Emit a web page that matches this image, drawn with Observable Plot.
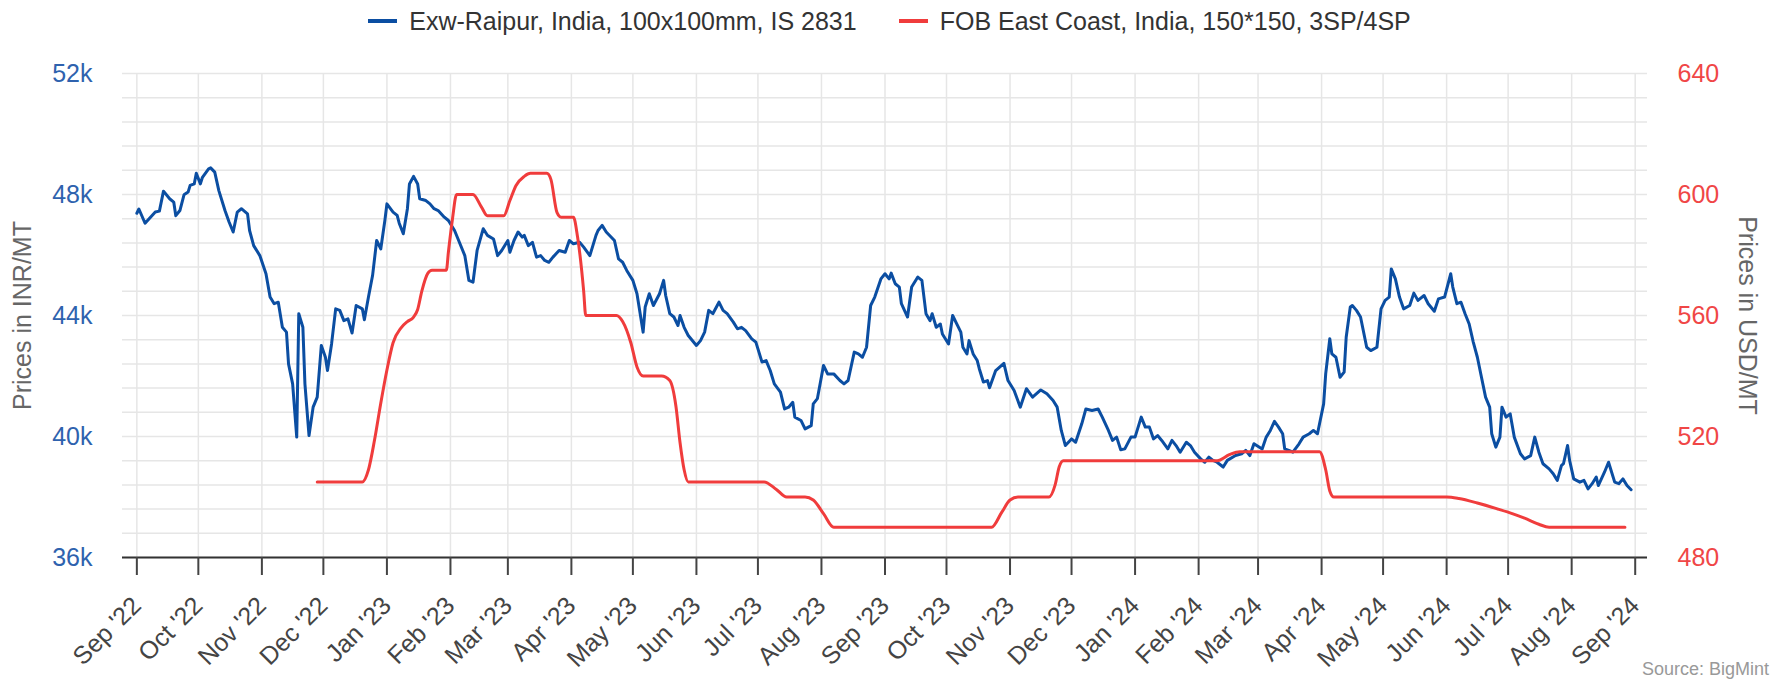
<!DOCTYPE html>
<html><head><meta charset="utf-8">
<script src="https://cdn.jsdelivr.net/npm/d3@7"></script>
<script src="https://cdn.jsdelivr.net/npm/@observablehq/plot@0.6"></script>
<style>
html,body{margin:0;padding:0;background:#fff;}
#wrap{position:relative;width:1779px;height:681px;font-family:"Liberation Sans",Arial,sans-serif;overflow:hidden;background:#fff;}
#legend{height:42px;display:flex;justify-content:center;align-items:center;gap:42px;font-size:25px;color:#333;}
.item{display:flex;align-items:center;white-space:nowrap;}
.sw{width:29px;height:4px;margin-right:12px;}
#source{position:absolute;right:10px;top:659px;font-size:18px;color:#999;}
</style></head>
<body><div id="wrap"><div id="legend"></div><div id="chart"></div><div id="source"></div></div>
<script>
const seriesNames = ["Exw-Raipur, India, 100x100mm, IS 2831", "FOB East Coast, India, 150*150, 3SP/4SP"];
const seriesColors = ["#0b4ea2", "#f03c3c"];
const leftAxisTitle = "Prices in INR/MT";
const rightAxisTitle = "Prices in USD/MT";
const sourceText = "Source: BigMint";
const leftTicks = [36000, 40000, 44000, 48000, 52000];
const rightTicks = [480, 520, 560, 600, 640];

const blueDates = ["2022-09-01","2022-09-02","2022-09-05","2022-09-07","2022-09-10","2022-09-12","2022-09-14","2022-09-17","2022-09-19","2022-09-20","2022-09-22","2022-09-24","2022-09-26","2022-09-27","2022-09-29","2022-09-30","2022-10-02","2022-10-03","2022-10-06","2022-10-07","2022-10-09","2022-10-11","2022-10-14","2022-10-16","2022-10-18","2022-10-20","2022-10-22","2022-10-25","2022-10-26","2022-10-28","2022-10-31","2022-11-03","2022-11-05","2022-11-07","2022-11-09","2022-11-11","2022-11-13","2022-11-14","2022-11-16","2022-11-18","2022-11-19","2022-11-21","2022-11-22","2022-11-24","2022-11-26","2022-11-28","2022-11-30","2022-12-02","2022-12-03","2022-12-05","2022-12-07","2022-12-09","2022-12-11","2022-12-13","2022-12-15","2022-12-17","2022-12-20","2022-12-21","2022-12-23","2022-12-25","2022-12-27","2022-12-29","2022-12-31","2023-01-01","2023-01-04","2023-01-06","2023-01-07","2023-01-09","2023-01-11","2023-01-12","2023-01-14","2023-01-16","2023-01-17","2023-01-20","2023-01-22","2023-01-24","2023-01-26","2023-01-29","2023-01-31","2023-02-03","2023-02-05","2023-02-08","2023-02-10","2023-02-12","2023-02-14","2023-02-17","2023-02-19","2023-02-22","2023-02-24","2023-02-26","2023-03-01","2023-03-02","2023-03-04","2023-03-06","2023-03-08","2023-03-09","2023-03-11","2023-03-13","2023-03-15","2023-03-17","2023-03-19","2023-03-21","2023-03-23","2023-03-26","2023-03-29","2023-03-31","2023-04-02","2023-04-05","2023-04-07","2023-04-10","2023-04-13","2023-04-14","2023-04-16","2023-04-18","2023-04-22","2023-04-24","2023-04-26","2023-04-28","2023-05-01","2023-05-03","2023-05-06","2023-05-07","2023-05-09","2023-05-11","2023-05-14","2023-05-16","2023-05-17","2023-05-19","2023-05-21","2023-05-23","2023-05-24","2023-05-26","2023-05-28","2023-06-01","2023-06-03","2023-06-05","2023-06-07","2023-06-09","2023-06-12","2023-06-14","2023-06-16","2023-06-19","2023-06-21","2023-06-23","2023-06-25","2023-06-28","2023-06-30","2023-07-03","2023-07-05","2023-07-07","2023-07-09","2023-07-12","2023-07-14","2023-07-16","2023-07-18","2023-07-19","2023-07-22","2023-07-24","2023-07-27","2023-07-28","2023-07-30","2023-08-02","2023-08-04","2023-08-07","2023-08-10","2023-08-12","2023-08-14","2023-08-17","2023-08-19","2023-08-21","2023-08-23","2023-08-25","2023-08-27","2023-08-30","2023-09-01","2023-09-03","2023-09-04","2023-09-06","2023-09-08","2023-09-09","2023-09-12","2023-09-14","2023-09-17","2023-09-19","2023-09-21","2023-09-23","2023-09-24","2023-09-26","2023-09-28","2023-09-29","2023-10-02","2023-10-04","2023-10-06","2023-10-08","2023-10-09","2023-10-11","2023-10-12","2023-10-14","2023-10-16","2023-10-17","2023-10-19","2023-10-21","2023-10-22","2023-10-25","2023-10-29","2023-10-31","2023-11-03","2023-11-06","2023-11-09","2023-11-12","2023-11-16","2023-11-19","2023-11-22","2023-11-24","2023-11-26","2023-11-28","2023-12-01","2023-12-03","2023-12-06","2023-12-08","2023-12-11","2023-12-14","2023-12-16","2023-12-19","2023-12-21","2023-12-23","2023-12-25","2023-12-27","2023-12-30","2024-01-01","2024-01-04","2024-01-06","2024-01-08","2024-01-10","2024-01-12","2024-01-14","2024-01-17","2024-01-19","2024-01-21","2024-01-23","2024-01-26","2024-01-28","2024-01-30","2024-02-02","2024-02-04","2024-02-06","2024-02-08","2024-02-10","2024-02-13","2024-02-15","2024-02-19","2024-02-22","2024-02-24","2024-02-26","2024-02-28","2024-03-03","2024-03-05","2024-03-07","2024-03-09","2024-03-11","2024-03-13","2024-03-14","2024-03-16","2024-03-18","2024-03-21","2024-03-23","2024-03-26","2024-03-28","2024-03-30","2024-03-31","2024-04-02","2024-04-03","2024-04-05","2024-04-06","2024-04-08","2024-04-10","2024-04-12","2024-04-13","2024-04-15","2024-04-16","2024-04-18","2024-04-20","2024-04-23","2024-04-25","2024-04-28","2024-04-30","2024-05-02","2024-05-04","2024-05-05","2024-05-07","2024-05-09","2024-05-11","2024-05-14","2024-05-16","2024-05-18","2024-05-21","2024-05-23","2024-05-26","2024-05-28","2024-05-31","2024-06-03","2024-06-04","2024-06-06","2024-06-08","2024-06-10","2024-06-12","2024-06-14","2024-06-16","2024-06-18","2024-06-20","2024-06-22","2024-06-23","2024-06-25","2024-06-27","2024-06-28","2024-06-30","2024-07-02","2024-07-04","2024-07-07","2024-07-09","2024-07-12","2024-07-14","2024-07-16","2024-07-18","2024-07-21","2024-07-23","2024-07-25","2024-07-27","2024-07-28","2024-07-30","2024-07-31","2024-08-02","2024-08-05","2024-08-07","2024-08-09","2024-08-11","2024-08-13","2024-08-14","2024-08-17","2024-08-19","2024-08-22","2024-08-24","2024-08-26","2024-08-28","2024-08-30"];
const blueValues = [47380,47520,47050,47200,47420,47450,48110,47860,47750,47300,47470,47990,48080,48300,48350,48700,48350,48570,48850,48880,48740,48130,47470,47090,46760,47420,47530,47360,46810,46310,45980,45380,44610,44390,44440,43610,43450,42400,41740,39980,44060,43610,41740,40030,40970,41300,43010,42620,42180,43060,44220,44170,43830,43890,43420,44330,44220,43860,44610,45320,46480,46200,47140,47690,47420,47310,47050,46700,47530,48350,48600,48350,47860,47800,47690,47530,47470,47250,47140,46810,46480,45980,45160,45100,46150,46870,46650,46530,45980,46150,46480,46090,46480,46760,46590,46650,46310,46420,45930,45980,45820,45760,45930,46150,46090,46480,46370,46420,46260,45980,46650,46810,46980,46760,46480,45870,45760,45490,45160,44720,43450,44280,44720,44330,44720,45160,44660,44060,43950,43670,44000,43610,43340,43010,43170,43450,44170,44060,44440,44170,44060,43780,43560,43610,43500,43230,43120,42460,42510,42180,41740,41470,40910,40970,41130,40640,40530,40250,40360,41080,41250,42350,42070,42070,41850,41740,41850,42790,42730,42620,42950,44330,44610,45210,45380,45210,45400,45050,44940,44390,43950,44940,45270,45160,44060,43830,44060,43610,43720,43390,43060,44000,43720,43450,42950,42730,43170,42730,42510,42240,41800,41850,41610,42180,42420,41850,41520,40970,41580,41300,41540,41410,41190,40970,40200,39700,39920,39810,40420,40910,40860,40910,40640,40200,39870,39980,39560,39590,39980,39980,40640,40310,40310,39920,40030,39870,39590,39870,39700,39480,39810,39700,39480,39260,39150,39320,39210,39150,38990,39210,39370,39430,39540,39370,39760,39590,39980,40200,40500,40310,40090,39590,39540,39480,39760,39980,40090,40200,40090,40420,41080,42070,43230,42730,42620,41960,42130,43280,44280,44330,44170,43950,42950,42840,42950,44220,44500,44610,45540,45210,44610,44220,44330,44740,44500,44660,44390,44140,44550,44610,45380,44940,44390,44440,44060,43720,43120,42620,41960,41300,40970,40090,39650,39980,40970,40640,40750,39980,39430,39260,39370,39980,39480,39100,38930,38770,38550,39040,39100,39700,39210,38600,38490,38550,38270,38440,38660,38380,38820,39150,38490,38440,38600,38380,38240];

const redDates = ["2022-11-28","2022-12-20","2022-12-23","2022-12-26","2022-12-29","2023-01-01","2023-01-04","2023-01-08","2023-01-11","2023-01-14","2023-01-16","2023-01-18","2023-01-21","2023-01-23","2023-01-30","2023-01-31","2023-02-02","2023-02-04","2023-02-12","2023-02-16","2023-02-19","2023-02-27","2023-03-02","2023-03-05","2023-03-09","2023-03-12","2023-03-20","2023-03-22","2023-03-25","2023-03-27","2023-04-02","2023-04-04","2023-04-07","2023-04-08","2023-04-23","2023-04-26","2023-04-30","2023-05-03","2023-05-06","2023-05-15","2023-05-19","2023-05-22","2023-05-24","2023-05-26","2023-05-28","2023-07-04","2023-07-10","2023-07-15","2023-07-24","2023-07-28","2023-08-02","2023-08-07","2023-10-23","2023-10-28","2023-11-01","2023-11-05","2023-11-20","2023-11-23","2023-11-25","2023-11-27","2024-02-10","2024-02-16","2024-02-21","2024-03-31","2024-04-03","2024-04-05","2024-04-07","2024-06-01","2024-06-07","2024-06-16","2024-06-26","2024-07-03","2024-07-09","2024-07-16","2024-07-21","2024-08-27"];
const redValues = [505,505,509,519,531,542,551,556,558,559.5,562,568,574,575,575,581,592,600,600,596,593,593,598,603,606,607,607,605,594,592.5,592.5,586,568,560,560,558,551,543,540,540,538.5,530,518,509,505,505,502.5,500,500,499,494.5,490,490,495,499,500,500,504,510,512,512,514,515,515,509,502,500,500,499.5,498,496,494.5,493,491,490,490];

// Map USD (right axis) onto the INR (left axis) range: 480..640 <-> 36000..52000
const usdToInr = d3.scaleLinear().domain([480, 640]).range([36000, 52000]);
const parse = d3.utcParse("%Y-%m-%d");
const blue = blueDates.map((d, i) => ({date: parse(d), value: blueValues[i]}));
const red = redDates.map((d, i) => ({date: parse(d), value: redValues[i]}));

const monthTicks = d3.utcMonth.range(new Date(Date.UTC(2022, 8, 1)), new Date(Date.UTC(2024, 8, 2)));
const gridValues = d3.range(36000, 52001, 800);
const font = "Liberation Sans, Arial, sans-serif";

// Legend
const legend = d3.select("#legend");
seriesNames.forEach((name, i) => {
  const item = legend.append("div").attr("class", "item");
  item.append("div").attr("class", "sw").style("background", seriesColors[i]);
  item.append("span").text(name);
});
d3.select("#source").text(sourceText);

const chart = Plot.plot({
  width: 1779,
  height: 639,
  marginTop: 31,
  marginBottom: 124,
  marginLeft: 122,
  marginRight: 132,
  style: {fontFamily: font, fontSize: "25px", background: "#fff", overflow: "visible"},
  x: {type: "utc", domain: [new Date(Date.UTC(2022, 7, 25)), new Date(Date.UTC(2024, 8, 7))]},
  y: {domain: [36000, 52000]},
  marks: [
    Plot.gridY({ticks: gridValues, stroke: "#e6e6e6", strokeOpacity: 1, strokeWidth: 1.5}),
    Plot.gridX({ticks: monthTicks, stroke: "#e6e6e6", strokeOpacity: 1, strokeWidth: 1.5}),
    Plot.ruleY([36000], {stroke: "#333", strokeWidth: 2}),
    Plot.axisX({ticks: monthTicks, tickFormat: d3.utcFormat("%b '%y"), tickRotate: -45, tickSize: 18, tickPadding: 26,
      fontSize: 25, color: "#444", strokeWidth: 2, textAnchor: "end", lineAnchor: "middle", label: null}),
    Plot.axisY({anchor: "left", ticks: leftTicks, tickFormat: d => d / 1000 + "k", tickSize: 0, tickPadding: 30,
      fontSize: 25, color: "#2e62ae", label: null}),
    Plot.axisY({anchor: "right", ticks: rightTicks.map(v => usdToInr(v)), tickFormat: v => String(Math.round(usdToInr.invert(v))),
      tickSize: 0, tickPadding: 30, fontSize: 25, color: "#f04646", label: null}),
    Plot.text([leftAxisTitle], {frameAnchor: "left", textAnchor: "middle", dx: -100, rotate: -90, fontSize: 25, fill: "#666"}),
    Plot.text([rightAxisTitle], {frameAnchor: "right", textAnchor: "middle", dx: 99, rotate: 90, fontSize: 25, fill: "#666"}),
    Plot.line(blue, {x: "date", y: "value", stroke: seriesColors[0], strokeWidth: 3, strokeLinejoin: "round"}),
    Plot.line(red, {x: "date", y: d => usdToInr(d.value), stroke: seriesColors[1], strokeWidth: 3, curve: "monotone-x"})
  ]
});
document.getElementById("chart").appendChild(chart);
</script>
</body></html>
